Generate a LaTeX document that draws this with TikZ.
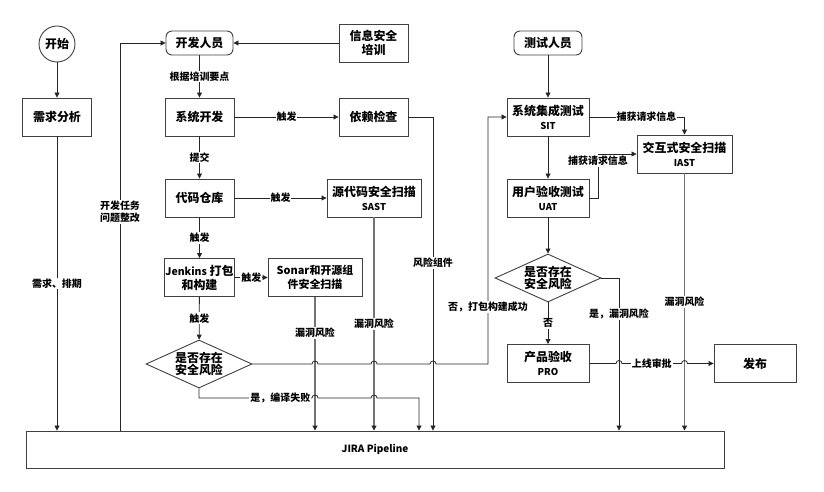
\documentclass[tikz,border=0pt]{standalone}
\usepackage{fontspec}
\setmainfont{Noto Sans CJK SC}
\usetikzlibrary{arrows.meta,shapes.geometric,calc}
\begin{document}
\begin{tikzpicture}[x=1bp,y=-1bp,
  font=\fontsize{12}{14}\selectfont\bfseries,
  box/.style={draw=black!75, line width=0.9bp, minimum width=69bp, minimum height=38bp, inner sep=1bp, align=center, fill=white},
  wbox/.style={box, minimum width=94bp},
  sbox/.style={box, minimum width=82bp},
  pill/.style={box, rounded corners=6bp, minimum width=67bp, minimum height=24bp},
  dec/.style={draw=black!75, line width=0.9bp, diamond, aspect=2.2, minimum width=106bp, minimum height=48bp, inner sep=0pt, align=center, font=\fontsize{12}{13}\selectfont\bfseries},
  lbl/.style={fill=white, inner sep=1bp, align=center, font=\fontsize{10}{12}\selectfont\bfseries},
  ln/.style={line width=0.8bp, draw=black!85},
  gln/.style={line width=1.1bp, draw=black!55},
  arr/.style={-{Triangle[length=5bp,width=5bp,color=black!85,fill=black!85]}},
]
\useasboundingbox (0,0) rectangle (824,492);

% nodes
\node[circle, draw=black!75, line width=0.9bp, minimum size=36bp, inner sep=0pt] (start) at (57,44) {开始};
\node[box] (req) at (57,117) {需求分析};
\node[pill] (dev) at (199.5,43) {开发人员};
\node[box] (train) at (373.5,43) {信息安全\\培训};
\node[box] (sysdev) at (199.5,117) {系统开发};
\node[box] (dep) at (373.5,117) {依赖检查};
\node[box] (repo) at (199.5,198) {代码仓库};
\node[wbox] (sast) at (374,198) {源代码安全扫描\\{\fontsize{9.5}{11}\selectfont SAST}};
\node[box] (jenk) at (199.5,277.5) {{\fontsize{10.5}{12}\selectfont Jenkins} 打包\\和构建};
\node[wbox, font=\fontsize{11}{14}\selectfont\bfseries] (sonar) at (315,277.5) {Sonar和开源组\\件安全扫描};
\node[dec] (d1) at (199,364) {是否存在\\安全风险};

\node[pill, minimum width=68bp] (tester) at (548,43) {测试人员};
\node[sbox] (sit) at (548,117) {系统集成测试\\{\fontsize{9.5}{11}\selectfont SIT}};
\node[box, minimum width=95bp] (iast) at (684.5,154) {交互式安全扫描\\{\fontsize{9.5}{11}\selectfont IAST}};
\node[sbox] (uat) at (548,198) {用户验收测试\\{\fontsize{9.5}{11}\selectfont UAT}};
\node[dec] (d2) at (548,278) {是否存在\\安全风险};
\node[sbox] (pro) at (548,363.5) {产品验收\\{\fontsize{9.5}{11}\selectfont PRO}};
\node[sbox] (rel) at (755,363.5) {发布};
\node[box, minimum width=698bp, minimum height=37bp, font=\fontsize{10}{12}\selectfont\bfseries] (jira) at (375,449.5) {JIRA Pipeline};

% helper coordinates
\coordinate (xl) at (120,0);
\coordinate (xd) at (433,0);
\coordinate (xs) at (488,0);
\coordinate (xf) at (419,0);
\coordinate (yf) at (0,398);
\coordinate (xu) at (598,0);
\coordinate (xr) at (619,0);

% left column
\draw[ln,arr] (start) -- (req);
\draw[ln,arr] (req) -- node[lbl,pos=0.5]{需求、排期} (req |- jira.north);
\draw[ln,arr] (xl |- jira.north) -- node[lbl,pos=0.564]{开发任务\\问题整改} (xl |- dev.west) -- (dev.west);
\draw[ln,arr] (train.west) -- (train.west -| dev.east);
\draw[ln,arr] (dev) -- node[lbl]{根据培训要点} (sysdev);
\draw[ln,arr] (sysdev) -- node[lbl]{触发} (dep);
\draw[ln,arr] (sysdev) -- node[lbl]{提交} (repo);
\draw[ln,arr] (repo) -- node[lbl]{触发} (sast);
\draw[ln,arr] (repo) -- node[lbl]{触发} (jenk);
\draw[ln,arr] (jenk) -- node[lbl]{触发} (sonar);
\draw[ln,arr] (jenk) -- node[lbl]{触发} (d1);

\draw[gln,arr] (sonar) -- node[lbl,pos=0.27]{漏洞风险} (sonar |- jira.north);
\draw[gln,arr] (sast) -- node[lbl,pos=0.5]{漏洞风险} (sast |- jira.north);
\draw[ln,arr] (dep.east) -- (xd |- dep.east) -- node[lbl,pos=0.465]{风险组件} (xd |- jira.north);

\draw[ln,arr] (d1.east)
  -- ($(sonar.south |- d1.east)+(-3,0)$) arc[start angle=180,end angle=0,radius=3bp]
  -- ($(sast.south |- d1.east)+(-3,0)$) arc[start angle=180,end angle=0,radius=3bp]
  -- ($(xd |- d1.east)+(-3,0)$) arc[start angle=180,end angle=0,radius=3bp]
  -- (xs |- d1.east) -- node[lbl,pos=0.23]{否，打包构建成功} (xs |- sit.west) -- (sit.west);

\draw[ln,arr] (d1.south) -- (d1.south |- yf)
  -- node[lbl,pos=0.72]{是，编译失败} ($(sonar.south |- yf)+(-3,0)$) arc[start angle=180,end angle=0,radius=3bp]
  -- ($(sast.south |- yf)+(-3,0)$) arc[start angle=180,end angle=0,radius=3bp]
  -- (xf |- yf) -- (xf |- jira.north);

% right column
\draw[ln,arr] (tester) -- (sit);
\draw[ln,arr] (sit.east) -- node[lbl,pos=0.6]{捕获请求信息} (sit.east -| iast.north) -- (iast.north);
\draw[ln,arr] (sit) -- (uat);
\draw[ln,arr] (uat.east) -- (xu |- uat.east) -- node[lbl,pos=0.84]{捕获请求信息} (xu |- iast.west) -- (iast.west);
\draw[ln,arr] (uat) -- (d2);
\draw[ln,arr] (d2) -- node[lbl]{否} (pro);
\draw[ln,arr] (d2.east) -- (xr |- d2.east) -- node[lbl,pos=0.235]{是，漏洞风险} (xr |- jira.north);
\draw[gln,arr] (iast.south) -- node[lbl,pos=0.5]{漏洞风险} (iast.south |- jira.north);
\draw[ln,arr] (pro.east)
  -- ($(xr |- pro.east)+(-3,0)$) arc[start angle=180,end angle=0,radius=3bp]
  -- node[lbl]{上线审批} ($(iast.south |- pro.east)+(-3,0)$) arc[start angle=180,end angle=0,radius=3bp]
  -- (rel.west);
\end{tikzpicture}
\end{document}
